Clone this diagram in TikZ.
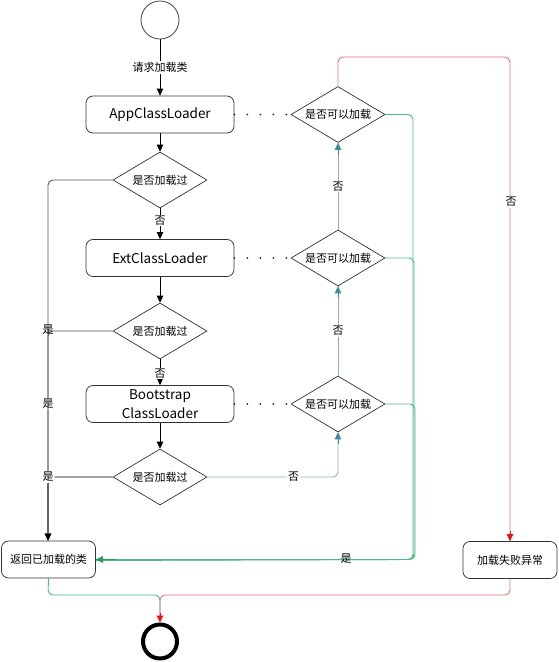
\documentclass[tikz,border=0pt]{standalone}
\usepackage{fontspec}
\setmainfont{Noto Sans CJK SC}
\usetikzlibrary{shapes.geometric,arrows.meta,calc}
\definecolor{teal1}{HTML}{7FB5BF}
\definecolor{teal2}{HTML}{3E8C9C}
\definecolor{green1}{HTML}{4CBB82}
\definecolor{green2}{HTML}{1E9E5A}
\definecolor{red1}{HTML}{E87474}
\definecolor{red2}{HTML}{F01010}
\definecolor{gray1}{HTML}{555555}
\begin{document}
\begin{tikzpicture}[x=1pt,y=-1pt,
  every node/.style={font=\fontsize{11}{12}\selectfont},
  box/.style={draw=black!80, rounded corners=7pt, minimum width=148pt, minimum height=37pt, inner sep=0pt, line width=0.75pt, font=\fontsize{13.5}{19}\selectfont, align=center},
  sbox/.style={draw=black!80, rounded corners=7pt, minimum width=94pt, minimum height=37pt, inner sep=0pt, line width=0.75pt},
  dia/.style={draw=black!85, diamond, aspect=1.68, minimum width=94pt, minimum height=56pt, inner sep=0pt, line width=0.65pt},
  arr/.style={-{Triangle[width=6.5pt,length=7pt]}, line width=0.9pt},
  lbl/.style={fill=white, inner sep=1pt},
  dots/.style={line width=2pt, line cap=round, dash pattern=on 0pt off 13pt, black!85},
  rc/.style={rounded corners=5pt}
]
\useasboundingbox (0,0) rectangle (558,662);
% nodes
\node[circle, draw=black!80, line width=0.75pt, minimum size=38pt, inner sep=0pt] (start) at (160,20) {};
\node[box] (app) at (160,114.5) {AppClassLoader};
\node[dia] (d1) at (160,180) {是否加载过};
\node[box] (ext) at (160,258) {ExtClassLoader};
\node[dia] (d2) at (160,331) {是否加载过};
\node[box] (boot) at (160,404) {Bootstrap\\ClassLoader};
\node[dia] (d3) at (160,477) {是否加载过};
\node[dia] (c1) at (338,114.5) {是否可以加载};
\node[dia] (c2) at (338,258) {是否可以加载};
\node[dia] (c3) at (338,404) {是否可以加载};
\node[sbox] (ret) at (48.5,559.5) {返回已加载的类};
\node[sbox] (fail) at (510,560) {加载失败异常};
\node[circle, draw=black, line width=4pt, minimum size=34pt, inner sep=0pt] (end) at (160,641.5) {};
\coordinate (L1) at (48,180);
\coordinate (L2) at (48,331);
\coordinate (L3) at (48,477);
\coordinate (G1) at (413,114.5);
\coordinate (G2) at (413,258);
\coordinate (G3) at (413,404);
\coordinate (GB) at (413,559.5);
\coordinate (R1) at (338,57);
\coordinate (R2) at (510,57);
\coordinate (RB) at (510,595);
\coordinate (M) at (160,595);
\coordinate (GL) at (48,595);
\coordinate (T3) at (338,477);
% main column
\draw[arr] (start) -- node[lbl, pos=0.5] {请求加载类} (app);
\draw[arr] (app) -- (d1);
\draw[arr] (d1) -- node[lbl, pos=0.4] {否} (ext);
\draw[arr] (ext) -- (d2);
\draw[arr] (d2) -- node[lbl, pos=0.55] {否} (boot);
\draw[arr] (boot) -- (d3);
% left yes lines
\draw[arr, gray1, rc] (d1.west) -- (L1) -- node[lbl, pos=0.62, text=black] {是} (ret.north -| L1);
\draw[arr, gray1, rc] (d2.west) -- (L2) -- (ret.north -| L2);
\node[text=black, inner sep=0pt] (y2) at (48,330) {是};
\draw[arr, black, rc] (d3.west) -- node[lbl, pos=1, text=black] {是} (L3) -- (ret.north -| L3);
% dotted links
\draw[dots] (app.east) -- (c1.west);
\draw[dots] (ext.east) -- (c2.west);
\draw[dots] (boot.east) -- (c3.west);
% teal no-lines
\draw[teal1, line width=0.9pt, rc] (d3.east) -- node[lbl, pos=0.66, text=black] {否} (T3) -- (c3.south);
\draw[arr, teal2] ($(c3.south)+(0,12)$) -- (c3.south);
\draw[teal1, line width=0.9pt] (c3.north) -- node[lbl, text=black] {否} (c2.south);
\draw[arr, teal2] ($(c2.south)+(0,12)$) -- (c2.south);
\draw[teal1, line width=0.9pt] (c2.north) -- node[lbl, text=black] {否} (c1.south);
\draw[arr, teal2] ($(c1.south)+(0,12)$) -- (c1.south);
% green yes lines
\draw[green1, line width=0.9pt, rc] (c1.east) -- (G1) -- (GB) -- (ret.east);
\draw[green1, line width=0.9pt, rc] (c2.east) -- ([xshift=1pt]G2) -- ([xshift=1pt]GB) -- ([yshift=-1pt]ret.east);
\draw[green1, line width=0.9pt, rc] (c3.east) -- ([xshift=2pt]G3) -- ([xshift=2pt]GB) -- ([yshift=-0.5pt]ret.east);
\draw[arr, green2] ($(ret.east)+(20,0)$) -- (ret.east);
\node[lbl, fill=none] (yg) at (346,559) {是};
% red failure line
\draw[red1, line width=0.9pt, rc] (c1.north) -- (R1) -- (R2) -- (fail.north);
\node[lbl, text=black] (nr) at (511,202) {否};
\draw[arr, red2] ($(fail.north)+(0,-10)$) -- (fail.north);
% to end
\draw[green1, line width=0.9pt, rc] (ret.south) -- (GL) -- (M) -- (end.north);
\draw[red1, line width=0.9pt, rc] (fail.south) -- (RB) -- (M) -- (end.north);
\draw[arr, red2] ($(end.north)+(0,-10)$) -- (end.north);
\end{tikzpicture}
\end{document}
